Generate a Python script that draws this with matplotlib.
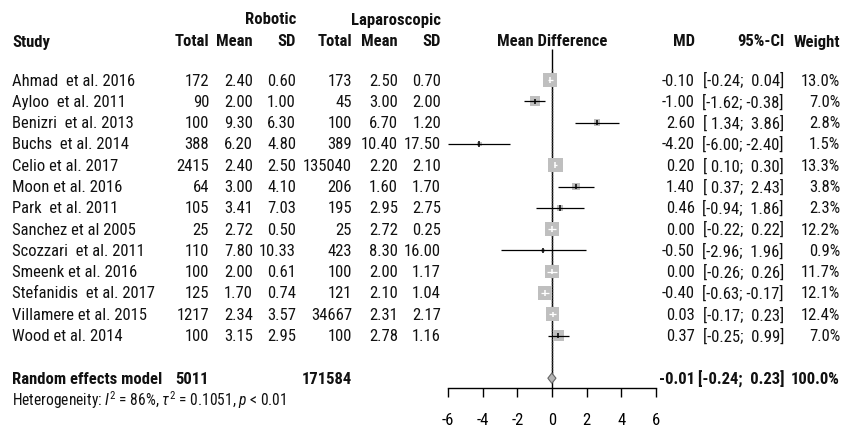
import matplotlib
matplotlib.use('Agg')
import numpy as np
import matplotlib.pyplot as plt
from matplotlib import font_manager

# ---- data ----
studies = ["Ahmad  et al. 2016", "Ayloo  et al. 2011", "Benizri  et al. 2013",
           "Buchs  et al. 2014", "Celio et al. 2017", "Moon et al. 2016",
           "Park  et al. 2011", "Sanchez et al 2005", "Scozzari  et al. 2011",
           "Smeenk et al. 2016", "Stefanidis  et al. 2017", "Villamere et al. 2015",
           "Wood et al. 2014"]
rob_total = [172, 90, 100, 388, 2415, 64, 105, 25, 110, 100, 125, 1217, 100]
rob_mean = [2.40, 2.00, 9.30, 6.20, 2.40, 3.00, 3.41, 2.72, 7.80, 2.00, 1.70, 2.34, 3.15]
rob_sd = [0.60, 1.00, 6.30, 4.80, 2.50, 4.10, 7.03, 0.50, 10.33, 0.61, 0.74, 3.57, 2.95]
lap_total = [173, 45, 100, 389, 135040, 206, 195, 25, 423, 100, 121, 34667, 100]
lap_mean = [2.50, 3.00, 6.70, 10.40, 2.20, 1.60, 2.95, 2.72, 8.30, 2.00, 2.10, 2.31, 2.78]
lap_sd = [0.70, 2.00, 1.20, 17.50, 2.10, 1.70, 2.75, 0.25, 16.00, 1.17, 1.04, 2.17, 1.16]
md = [-0.10, -1.00, 2.60, -4.20, 0.20, 1.40, 0.46, 0.00, -0.50, 0.00, -0.40, 0.03, 0.37]
ci_lo = [-0.24, -1.62, 1.34, -6.00, 0.10, 0.37, -0.94, -0.22, -2.96, -0.26, -0.63, -0.17, -0.25]
ci_hi = [0.04, -0.38, 3.86, -2.40, 0.30, 2.43, 1.86, 0.22, 1.96, 0.26, -0.17, 0.23, 0.99]
weight = [13.0, 7.0, 2.8, 1.5, 13.3, 3.8, 2.3, 12.2, 0.9, 11.7, 12.1, 12.4, 7.0]

pooled_md, pooled_lo, pooled_hi = -0.01, -0.24, 0.23
pooled_rob_n, pooled_lap_n = 5011, 171584
het_text = r"Heterogeneity: $\mathit{I}^2$ = 86%, $\tau^2$ = 0.1051, $\mathit{p}$ < 0.01"
xticks = [-6, -4, -2, 0, 2, 4, 6]

# ---- fonts (a narrow face if one exists, else Liberation Sans) ----
names = {f.name for f in font_manager.fontManager.ttflist}
fam, fs = 'Liberation Sans', 10.5
for cand in ['Liberation Sans Narrow', 'Arial Narrow', 'Roboto Condensed']:
    if cand in names:
        fam, fs = cand, 12
        break
plt.rcParams['font.family'] = [fam, 'DejaVu Sans']
plt.rcParams['mathtext.fontset'] = 'custom'
plt.rcParams['mathtext.rm'] = fam
plt.rcParams['mathtext.it'] = fam + ':italic'

W, H = 843, 431
fig = plt.figure(figsize=(W / 100, H / 100), dpi=100)

# row layout: first study at pixel 81, 21.3 px per row
top_px, row_px = 81, 21.3
ax = fig.add_axes([448 / W, 0, 208 / W, 1])
ax.set_xlim(-6, 6)
ax.set_ylim((H - top_px) / row_px, -top_px / row_px)

rows = np.arange(len(studies))
pooled_row = len(studies) + 1
het_row = pooled_row + 1
axis_row = (389 - top_px) / row_px

# squares sized by weight
side_px = 3.88 * np.sqrt(weight)
ax.scatter(md, rows, marker='s', s=(side_px * 0.72) ** 2, color='#bfbfbf',
           edgecolors='none', zorder=3)
px_per_unit = 208 / 12
for i in rows:
    inside = (ci_hi[i] - ci_lo[i]) * px_per_unit < side_px[i]
    c = 'white' if inside else 'black'
    ax.hlines(i, ci_lo[i], ci_hi[i], color=c, lw=0.9, zorder=4)
    ax.vlines(md[i], i - 0.13, i + 0.13, color=c, lw=1.1, zorder=4)

# reference lines
ax.vlines(0, (50 - top_px) / row_px, axis_row, color='black', lw=1, zorder=2)
ax.vlines(pooled_md, -0.5, pooled_row - 0.25, color='#333333', lw=1,
          linestyles=(0, (1, 1)), zorder=2)

# pooled diamond
h = 0.24
ax.fill([pooled_lo, pooled_md, pooled_hi, pooled_md],
        [pooled_row, pooled_row - h, pooled_row, pooled_row + h],
        facecolor='#b5b5b5', edgecolor='#666666', lw=0.8, zorder=5)

# axis
for s in ['left', 'right', 'top']:
    ax.spines[s].set_visible(False)
ax.spines['bottom'].set_position(('data', axis_row))
ax.spines['bottom'].set_bounds(-6, 6)
ax.spines['bottom'].set_linewidth(1)
ax.set_yticks([])
ax.set_xticks(xticks)
ax.set_xticklabels([str(t) for t in xticks])
ax.tick_params(axis='x', direction='out', length=6.5, width=1, pad=11, labelsize=fs)
ax.patch.set_visible(False)

# ---- text columns ----
tr = matplotlib.transforms.blended_transform_factory(fig.transFigure, ax.transData)


def put(px, row, s, ha='right', bold=False, size=fs):
    ax.text(px / W, row, s, transform=tr, ha=ha, va='center', fontsize=size,
            fontweight='bold' if bold else 'normal', color='#111111', clip_on=False)


hdr = (42 - top_px) / row_px
grp = (20 - top_px) / row_px
put(296, grp, "Robotic", bold=True)
put(441, grp, "Laparoscopic", bold=True)
put(12, hdr, "Study", ha='left', bold=True)
for px, lab in [(209, "Total"), (253, "Mean"), (296, "SD"), (352, "Total"),
                (398, "Mean"), (441, "SD"), (695, "MD"), (784, "95%-CI"), (840, "Weight")]:
    put(px, hdr, lab, bold=True)
put(552, hdr, "Mean Difference", ha='center', bold=True)

for i in rows:
    put(12, i, studies[i], ha='left')
    put(209, i, f"{rob_total[i]}")
    put(253, i, f"{rob_mean[i]:.2f}")
    put(296, i, f"{rob_sd[i]:.2f}")
    put(352, i, f"{lap_total[i]}")
    put(398, i, f"{lap_mean[i]:.2f}")
    put(441, i, f"{lap_sd[i]:.2f}")
    put(695, i, f"{md[i]:.2f}")
    put(784, i, f"[{ci_lo[i]:5.2f};{ci_hi[i]:6.2f}]")
    put(840, i, f"{weight[i]:.1f}%")

put(12, pooled_row, "Random effects model", ha='left', bold=True)
put(209, pooled_row, f"{pooled_rob_n}", bold=True)
put(352, pooled_row, f"{pooled_lap_n}", bold=True)
put(695, pooled_row, f"{pooled_md:.2f}", bold=True)
put(784, pooled_row, f"[{pooled_lo:5.2f};{pooled_hi:6.2f}]", bold=True)
put(840, pooled_row, "100.0%", bold=True)
put(12, het_row, het_text, ha='left', size=fs * 0.93)

fig.savefig('out.png', dpi=100)
